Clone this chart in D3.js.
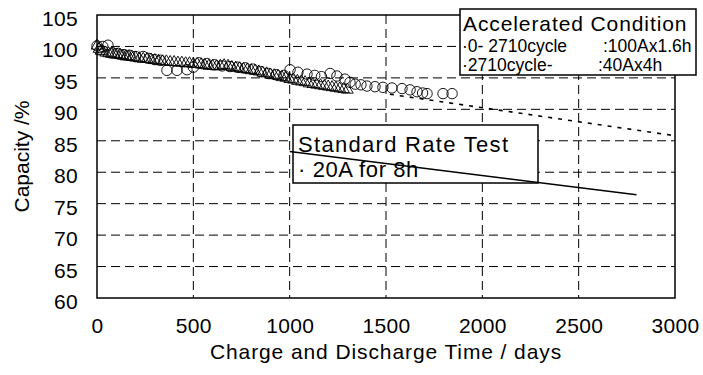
<!DOCTYPE html>
<html>
<head>
<meta charset="utf-8">
<script src="https://cdn.jsdelivr.net/npm/d3@7"></script>
<style>
  body { margin: 0; background: #fff; }
  svg text { font-family: "Liberation Sans", Arial, sans-serif; fill: #000; }
</style>
</head>
<body>
<svg id="chart"></svg>
<script>

// data
var xTicks = [0, 500, 1000, 1500, 2000, 2500, 3000];
var yTicks = [60, 65, 70, 75, 80, 85, 90, 95, 100, 105];

// triangles (days, capacity %)
var triDays = [0, 10, 20, 30, 45, 60, 75, 90, 105, 120, 135, 150, 165, 180, 200, 220, 240, 260, 280, 300,
    320, 340, 360, 380, 400, 420, 440, 460, 480, 500, 520, 540, 560, 580, 600, 620, 640, 660, 680, 700,
    720, 740, 760, 780, 800, 820, 840, 860, 880, 900, 920, 940, 960, 980, 1000, 1020, 1040, 1060, 1080, 1100,
    1120, 1140, 1160, 1180, 1200, 1220, 1240, 1260, 1280, 1300];
var triCap = [100.1, 99.6, 99.3, 99.2, 99.0, 98.9, 98.8, 98.7, 98.7, 98.6, 98.5, 98.4, 98.4, 98.3, 98.2, 98.1, 98.0, 98.0, 97.9, 97.8,
    97.7, 97.6, 97.6, 97.5, 97.5, 97.4, 97.4, 97.3, 97.3, 97.2, 97.2, 97.1, 97.0, 96.9, 96.9, 96.8, 96.9, 97.0, 96.9, 96.7,
    96.6, 96.5, 96.4, 96.3, 96.2, 96.1, 96.0, 95.8, 95.7, 95.5, 95.4, 95.3, 95.1, 95.0, 94.8, 94.7, 94.5, 94.4, 94.3, 94.1,
    94.0, 93.9, 93.8, 93.7, 93.6, 93.5, 93.4, 93.3, 93.2, 93.1];

// circles (days, capacity %)
var cirDays = [0, 30, 57, 80, 110, 140, 170, 200, 240, 270, 300, 330, 363, 415, 467, 500, 530, 570, 610, 650,
    690, 730, 770, 810, 850, 890, 930, 970, 1002, 1043, 1090, 1130, 1165, 1210, 1245, 1287, 1313, 1340, 1370, 1401,
    1443, 1484, 1531, 1583, 1625, 1661, 1690, 1713, 1796, 1843];
var cirCap = [100.1, 100.0, 100.2, 99.0, 98.9, 98.7, 98.6, 98.4, 98.4, 98.1, 97.9, 97.8, 96.2, 96.2, 96.3, 96.7, 97.4, 97.3, 97.1, 96.9,
    96.8, 96.7, 96.6, 96.4, 96.0, 95.7, 95.5, 95.4, 96.3, 95.9, 95.6, 95.4, 95.2, 95.7, 95.3, 94.8, 94.3, 94.0, 93.9, 93.7,
    93.6, 93.5, 93.4, 93.3, 93.1, 92.8, 92.6, 92.5, 92.5, 92.5];

// dotted projection and standard rate test line
var trendDays = [1520, 3000];
var trendCap = [92.4, 85.8];
var stdDays = [1000, 2800];
var stdCap = [83.3, 76.4];

var accelLines = ["\u00B70- 2710cycle", "\u00B72710cycle-"];
var accelValues = [":100Ax1.6h", ":40Ax4h"];

var width = 703;
var height = 375;
var plotLeft = 97, plotRight = 675, plotTop = 15, plotBottom = 298;

var svg = d3.select("#chart")
    .attr("width", width)
    .attr("height", height);

var xScale = d3.scaleLinear().domain([0, 3000]).range([plotLeft, plotRight]);
var yScale = d3.scaleLinear().domain([60, 105]).range([plotBottom, plotTop]);

// grid lines
svg.append("g").selectAll("line")
    .data(yTicks.slice(1, -1))
    .enter().append("line")
    .attr("x1", plotLeft).attr("x2", plotRight)
    .attr("y1", function(d) { return yScale(d); })
    .attr("y2", function(d) { return yScale(d); })
    .attr("stroke", "#000").attr("stroke-width", 1)
    .attr("stroke-dasharray", "9,5");

svg.append("g").selectAll("line")
    .data(xTicks.slice(1, -1))
    .enter().append("line")
    .attr("y1", plotTop).attr("y2", plotBottom)
    .attr("x1", function(d) { return xScale(d); })
    .attr("x2", function(d) { return xScale(d); })
    .attr("stroke", "#000").attr("stroke-width", 1)
    .attr("stroke-dasharray", "9,5");

// plot frame
svg.append("rect")
    .attr("x", plotLeft).attr("y", plotTop)
    .attr("width", plotRight - plotLeft).attr("height", plotBottom - plotTop)
    .attr("fill", "none").attr("stroke", "#000").attr("stroke-width", 1.5);

// axes (labels only)
var yAxis = d3.axisLeft(yScale).tickValues(yTicks).tickSize(0).tickPadding(19);
svg.append("g")
    .attr("class", "axis")
    .attr("transform", "translate(" + plotLeft + ",0)")
    .call(yAxis)
    .call(function(g) { g.select(".domain").remove(); })
    .selectAll("text")
    .attr("font-size", "21px")
    .attr("letter-spacing", "0.3px")
    .attr("dy", "0.5em");

var xAxis = d3.axisBottom(xScale).tickValues(xTicks).tickSize(0).tickPadding(20).tickFormat(d3.format("d"));
svg.append("g")
    .attr("class", "axis")
    .attr("transform", "translate(0," + plotBottom + ")")
    .call(xAxis)
    .call(function(g) { g.select(".domain").remove(); })
    .selectAll("text")
    .attr("font-size", "21px")
    .attr("letter-spacing", "0.3px");

svg.selectAll(".axis").attr("font-family", null).attr("font-size", null);

// axis titles
svg.append("text")
    .attr("x", (plotLeft + plotRight) / 2)
    .attr("y", 359)
    .attr("text-anchor", "middle")
    .attr("font-size", "21px")
    .attr("letter-spacing", "0.9px")
    .text("Charge and Discharge Time / days");

svg.append("text")
    .attr("transform", "translate(29," + ((plotTop + plotBottom) / 2) + ") rotate(-90)")
    .attr("text-anchor", "middle")
    .attr("font-size", "21px")
    .text("Capacity /%");

// dotted projection
var line = d3.line()
    .x(function(d) { return xScale(d[0]); })
    .y(function(d) { return yScale(d[1]); });

svg.append("path")
    .datum(d3.zip(trendDays, trendCap))
    .attr("d", line)
    .attr("fill", "none").attr("stroke", "#000").attr("stroke-width", 1.6)
    .attr("stroke-dasharray", "4,6");

// triangles
var tri = d3.symbol().type(d3.symbolTriangle).size(58);
svg.append("g").selectAll("path")
    .data(d3.zip(triDays, triCap))
    .enter().append("path")
    .attr("d", tri)
    .attr("transform", function(d) { return "translate(" + xScale(d[0]) + "," + yScale(d[1]) + ")"; })
    .attr("fill", "none").attr("stroke", "#000").attr("stroke-width", 0.9);

// circles
svg.append("g").selectAll("circle")
    .data(d3.zip(cirDays, cirCap))
    .enter().append("circle")
    .attr("cx", function(d) { return xScale(d[0]); })
    .attr("cy", function(d) { return yScale(d[1]); })
    .attr("r", 5.2)
    .attr("fill", "none").attr("stroke", "#000").attr("stroke-width", 0.9);

// Standard Rate Test box
svg.append("rect")
    .attr("x", 293).attr("y", 125).attr("width", 245).attr("height", 58)
    .attr("fill", "#fff").attr("stroke", "#000").attr("stroke-width", 1.5);
svg.append("text")
    .attr("x", 298).attr("y", 152)
    .attr("font-size", "22px").attr("letter-spacing", "1.3px")
    .text("Standard Rate Test");
svg.append("text")
    .attr("x", 298).attr("y", 177)
    .attr("font-size", "22px").attr("letter-spacing", "0.6px")
    .text("\u00B7 20A for 8h");

// standard rate line
svg.append("path")
    .datum(d3.zip(stdDays, stdCap))
    .attr("d", line)
    .attr("fill", "none").attr("stroke", "#000").attr("stroke-width", 1.5);

// Accelerated Condition box
svg.append("rect")
    .attr("x", 460).attr("y", 9).attr("width", 236).attr("height", 66)
    .attr("fill", "#fff").attr("stroke", "#000").attr("stroke-width", 1.5);
svg.append("text")
    .attr("x", 463).attr("y", 31)
    .attr("font-size", "21px").attr("letter-spacing", "0.9px")
    .text("Accelerated Condition");
svg.append("g").selectAll("text")
    .data(accelLines)
    .enter().append("text")
    .attr("x", 462)
    .attr("y", function(d, i) { return 52 + i * 19; })
    .attr("font-size", "17.5px")
    .text(function(d) { return d; });
svg.append("g").selectAll("text")
    .data(accelValues)
    .enter().append("text")
    .attr("x", function(d, i) { return i == 0 ? 603 : 598; })
    .attr("y", function(d, i) { return 52 + i * 19; })
    .attr("font-size", "17.5px")
    .text(function(d) { return d; });

</script>
</body>
</html>
